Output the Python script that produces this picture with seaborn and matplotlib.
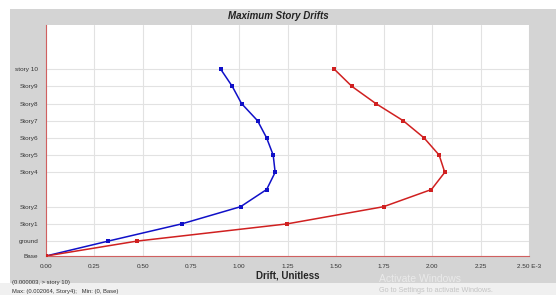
import numpy as np
import pandas as pd
import matplotlib
matplotlib.use("Agg")
import matplotlib.pyplot as plt
from matplotlib.patches import Rectangle
import seaborn as sns

# story elevations and labels
levels = ["Base", "ground", "Story1", "Story2", "Story3", "Story4", "Story5",
          "Story6", "Story7", "Story8", "Story9", "story 10"]
elev = [0, 2.6, 5.6, 8.6, 11.6, 14.6, 17.6, 20.6, 23.6, 26.6, 29.6, 32.6]

# drift values (x 1e-3)
drift_x = [0.0, 0.322, 0.702, 1.007, 1.142, 1.186, 1.176, 1.142, 1.095, 1.012, 0.964, 0.904]
drift_y = [0.0, 0.471, 1.247, 1.747, 1.995, 2.064, 2.035, 1.957, 1.849, 1.707, 1.583, 1.492]

tick_labels = ["Base", "ground", "Story1", "Story2", "Story4", "Story5",
               "Story6", "Story7", "Story8", "Story9", "story 10"]
xticks = [0.0, 0.25, 0.5, 0.75, 1.0, 1.25, 1.5, 1.75, 2.0, 2.25, 2.5]

df = pd.concat([
    pd.DataFrame({"drift": drift_x, "elev": elev, "dir": "X"}),
    pd.DataFrame({"drift": drift_y, "elev": elev, "dir": "Y"}),
])

sns.set_style("white")
plt.rcParams["font.family"] = ["Liberation Sans", "DejaVu Sans"]

fig = plt.figure(figsize=(5.56, 2.95), dpi=100)
fig.patch.set_facecolor("white")
# gray window frame
fig.patches.append(Rectangle((10 / 556, 12 / 295), 546 / 556, 274 / 295,
                             transform=fig.transFigure, facecolor="#d4d4d4",
                             edgecolor="none", zorder=-5))
fig.patches.append(Rectangle((0, 0), 1, 12 / 295, transform=fig.transFigure,
                             facecolor="#f0f0f0", edgecolor="none", zorder=-5))

ax = fig.add_axes([46 / 556, 39 / 295, 483 / 556, 231 / 295])
ax.set_facecolor("white")

sns.lineplot(data=df, x="drift", y="elev", hue="dir", sort=False, estimator=None,
             palette={"X": "#1010c8", "Y": "#d02020"}, marker="s", markersize=3,
             markeredgewidth=0, linewidth=1.1, legend=False, ax=ax, zorder=3)

ax.set_xlim(0, 2.5)
ax.set_ylim(0, 40.3)
ax.set_xticks(xticks)
ax.set_xticklabels(["%.2f" % v for v in xticks[:-1]] + ["2.50 E-3"])
tick_elev = [e for e, l in zip(elev, levels) if l != "Story3"]
ax.set_yticks(tick_elev)
ax.set_yticklabels(tick_labels)
ax.grid(True, color="#e2e2e2", linewidth=0.8)
ax.tick_params(axis="both", labelsize=4.6, colors="#333333", length=2.5,
               width=0.6, pad=3, direction="out")
for s in ["top", "right"]:
    ax.spines[s].set_visible(False)
for s in ["left", "bottom"]:
    ax.spines[s].set_color("#d06060")
    ax.spines[s].set_linewidth(0.8)

ax.set_xlabel("Drift, Unitless", fontsize=7, fontweight="bold", labelpad=1)
ax.set_ylabel("")
fig.text(0.5, (295 - 16) / 295, "Maximum Story Drifts", ha="center", va="center",
         fontsize=7, fontweight="bold", style="italic", color="#222222")

fig.text(12 / 556, 10 / 295, "(0.000003, > story 10)", fontsize=4.2,
         color="#333333", va="bottom")
fig.text(12 / 556, 1 / 295, "Max: (0.002064, Story4);   Min: (0, Base)",
         fontsize=4.2, color="#333333", va="bottom")
fig.text(379 / 556, 16 / 295, "Activate Windows", fontsize=7.5,
         color="#eaeaea", va="center")
fig.text(379 / 556, 4 / 295, "Go to Settings to activate Windows.",
         fontsize=5.2, color="#c4c4c4", va="center")

fig.savefig("out.png", dpi=100)
